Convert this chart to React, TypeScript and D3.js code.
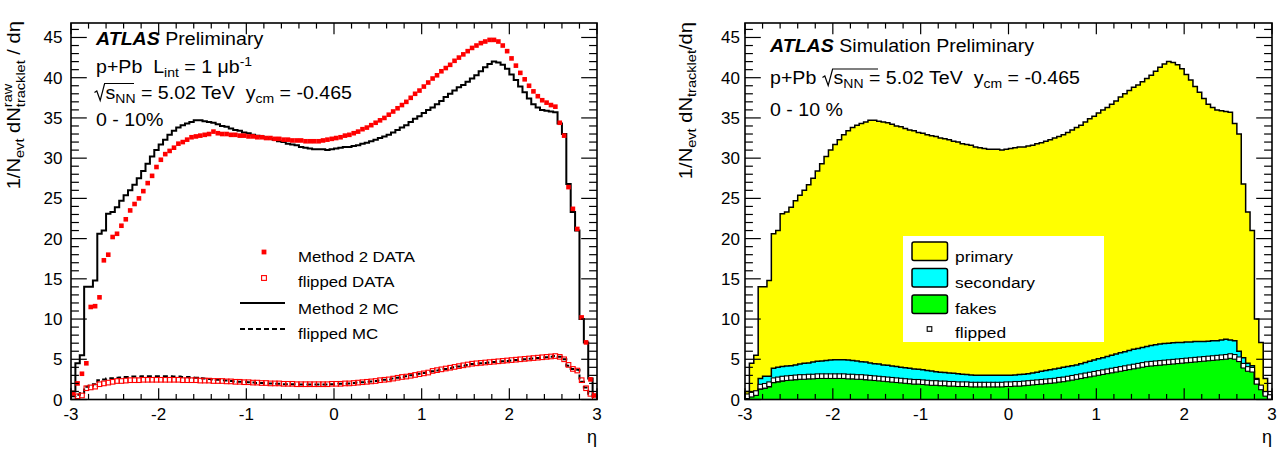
import React from "react";
import * as d3 from "d3";

const FONT = "'Liberation Sans', Arial, Helvetica, sans-serif";
const ETA_MIN = -3;
const ETA_MAX = 3;
const BIN_WIDTH = 0.05;
const N_BINS = 120;
const binLowEdges = d3.range(N_BINS).map((i) => +(ETA_MIN + i * BIN_WIDTH).toFixed(3));

// Method 2 MC (black histogram, left) == total (top of stack, right)
const method2MC = [
  1.0, 4.5, 5.5, 14.0, 14.0, 14.8, 20.6, 21.0, 23.1, 23.3,
  23.9, 24.7, 25.4, 26.0, 26.7, 27.5, 28.4, 29.3, 30.2, 31.0,
  31.7, 32.3, 32.9, 33.4, 33.8, 34.1, 34.3, 34.5, 34.7, 34.7,
  34.6, 34.5, 34.4, 34.2, 34.0, 33.9, 33.7, 33.5, 33.4, 33.2,
  33.1, 32.9, 32.8, 32.7, 32.5, 32.4, 32.3, 32.1, 32.0, 31.8,
  31.7, 31.6, 31.4, 31.3, 31.2, 31.1, 31.1, 31.1, 31.0, 31.1,
  31.2, 31.3, 31.4, 31.4, 31.5, 31.6, 31.8, 31.9, 32.1, 32.3,
  32.5, 32.7, 32.9, 33.2, 33.5, 33.8, 34.1, 34.5, 34.9, 35.2,
  35.6, 36.0, 36.3, 36.7, 37.1, 37.6, 38.0, 38.4, 38.8, 39.1,
  39.5, 39.9, 40.3, 40.8, 41.3, 41.7, 42.0, 41.9, 41.6, 41.1,
  40.4, 39.7, 38.9, 38.2, 37.4, 36.7, 36.3, 36.0, 35.9, 35.8,
  35.7, 34.3, 33.0, 26.8, 23.3, 21.0, 10.0, 7.1, 2.6, 0.5,
];

// Method 2 DATA (red filled squares)
const method2Data = [
  0.8, 2.0, 3.2, 4.5, 11.5, 11.6, 12.7, 17.3, 18.0, 20.2,
  20.6, 21.6, 22.4, 23.5, 24.3, 25.0, 25.9, 26.9, 27.8, 28.9,
  29.8, 30.5, 30.9, 31.3, 31.8, 32.0, 32.3, 32.6, 32.7, 32.8,
  32.9, 33.0, 33.3, 33.1, 33.0, 33.0, 32.9, 32.9, 32.8, 32.8,
  32.7, 32.7, 32.6, 32.6, 32.5, 32.5, 32.4, 32.4, 32.3, 32.3,
  32.2, 32.2, 32.2, 32.1, 32.1, 32.1, 32.1, 32.2, 32.3, 32.4,
  32.5, 32.6, 32.8, 32.9, 33.1, 33.3, 33.6, 33.8, 34.1, 34.4,
  34.7, 35.0, 35.4, 35.8, 36.2, 36.6, 37.0, 37.5, 38.0, 38.4,
  38.9, 39.4, 39.9, 40.3, 40.8, 41.2, 41.6, 42.1, 42.5, 42.9,
  43.3, 43.7, 44.0, 44.3, 44.5, 44.7, 44.7, 44.5, 44.0, 43.3,
  42.4, 41.5, 40.6, 39.8, 39.0, 38.3, 37.7, 37.2, 36.9, 36.6,
  36.4, 34.4, 32.8, 26.4, 23.7, 21.2, 10.2, 7.1, 2.5, 0.5,
];

// flipped DATA (red open squares)
const flippedData = [
  0.3, 0.4, 0.5, 1.4, 1.5, 1.6, 1.9, 2.0, 2.1, 2.2,
  2.3, 2.3, 2.35, 2.4, 2.4, 2.4, 2.45, 2.45, 2.45, 2.45,
  2.45, 2.45, 2.45, 2.45, 2.45, 2.4, 2.4, 2.4, 2.4, 2.35,
  2.35, 2.35, 2.3, 2.3, 2.3, 2.25, 2.25, 2.2, 2.2, 2.15,
  2.15, 2.1, 2.1, 2.05, 2.05, 2.0, 2.0, 2.0, 1.95, 1.95,
  1.95, 1.9, 1.9, 1.9, 1.9, 1.9, 1.9, 1.9, 1.9, 1.95,
  1.95, 1.95, 2.0, 2.0, 2.05, 2.1, 2.15, 2.2, 2.25, 2.3,
  2.4, 2.45, 2.5, 2.6, 2.7, 2.8, 2.85, 2.95, 3.05, 3.15,
  3.25, 3.35, 3.55, 3.65, 3.75, 3.85, 3.95, 4.05, 4.15, 4.25,
  4.35, 4.45, 4.5, 4.55, 4.6, 4.65, 4.7, 4.75, 4.8, 4.85,
  4.9, 4.95, 5.0, 5.05, 5.1, 5.15, 5.2, 5.25, 5.3, 5.35,
  5.4, 5.3, 5.0, 4.3, 3.8, 3.6, 2.4, 1.4, 0.7, 0.3,
];

// flipped MC (black dashed, left) and flipped markers (right)
const flippedMC = [
  0.4, 0.6, 0.8, 1.6, 1.7, 1.9, 2.4, 2.5, 2.6, 2.65,
  2.7, 2.75, 2.8, 2.8, 2.85, 2.85, 2.9, 2.9, 2.9, 2.9,
  2.9, 2.9, 2.9, 2.85, 2.85, 2.8, 2.8, 2.75, 2.7, 2.65,
  2.6, 2.55, 2.5, 2.45, 2.4, 2.35, 2.3, 2.25, 2.2, 2.2,
  2.15, 2.1, 2.05, 2.05, 2.0, 2.0, 1.95, 1.95, 1.9, 1.9,
  1.9, 1.85, 1.85, 1.85, 1.85, 1.85, 1.85, 1.85, 1.85, 1.9,
  1.9, 1.95, 1.95, 2.0, 2.05, 2.1, 2.15, 2.2, 2.25, 2.3,
  2.35, 2.45, 2.5, 2.6, 2.7, 2.8, 2.9, 3.0, 3.1, 3.2,
  3.3, 3.4, 3.5, 3.6, 3.7, 3.8, 3.9, 4.0, 4.1, 4.2,
  4.3, 4.4, 4.45, 4.5, 4.55, 4.6, 4.65, 4.7, 4.75, 4.8,
  4.85, 4.9, 4.95, 5.0, 5.05, 5.1, 5.15, 5.2, 5.25, 5.3,
  5.4, 5.3, 5.0, 4.2, 3.8, 3.7, 2.2, 1.5, 0.7, 0.3,
];

// fakes component (green)
const fakes = [
  0.3, 0.5, 0.6, 1.3, 1.4, 1.6, 2.1, 2.2, 2.3, 2.4,
  2.45, 2.5, 2.55, 2.6, 2.6, 2.65, 2.65, 2.65, 2.7, 2.7,
  2.7, 2.7, 2.65, 2.65, 2.6, 2.6, 2.55, 2.5, 2.5, 2.45,
  2.4, 2.35, 2.3, 2.25, 2.2, 2.15, 2.1, 2.05, 2.0, 2.0,
  1.95, 1.9, 1.85, 1.85, 1.8, 1.8, 1.75, 1.75, 1.7, 1.7,
  1.7, 1.65, 1.65, 1.65, 1.65, 1.65, 1.65, 1.65, 1.65, 1.7,
  1.7, 1.75, 1.75, 1.8, 1.85, 1.9, 1.95, 2.0, 2.05, 2.1,
  2.15, 2.25, 2.3, 2.4, 2.5, 2.6, 2.7, 2.8, 2.9, 3.0,
  3.1, 3.2, 3.3, 3.4, 3.5, 3.6, 3.7, 3.8, 3.9, 4.0,
  4.1, 4.2, 4.25, 4.3, 4.35, 4.4, 4.45, 4.5, 4.55, 4.6,
  4.65, 4.7, 4.75, 4.8, 4.85, 4.9, 4.95, 5.0, 5.05, 5.1,
  5.2, 5.1, 4.8, 4.0, 3.6, 3.5, 2.0, 1.3, 0.6, 0.2,
];

// secondary component (cyan)
const secondary = [
  0.2, 0.3, 0.4, 1.3, 1.5, 1.3, 1.8, 1.8, 1.8, 1.75,
  1.75, 1.8, 1.85, 1.9, 1.95, 2.0, 2.1, 2.15, 2.15, 2.2,
  2.25, 2.25, 2.3, 2.25, 2.25, 2.2, 2.15, 2.15, 2.05, 2.0,
  2.0, 1.95, 1.95, 1.9, 1.9, 1.85, 1.85, 1.85, 1.8, 1.75,
  1.75, 1.7, 1.7, 1.6, 1.6, 1.55, 1.55, 1.5, 1.5, 1.45,
  1.4, 1.4, 1.35, 1.35, 1.35, 1.35, 1.35, 1.35, 1.35, 1.3,
  1.3, 1.3, 1.35, 1.35, 1.35, 1.4, 1.45, 1.5, 1.55, 1.6,
  1.65, 1.65, 1.7, 1.7, 1.7, 1.7, 1.75, 1.8, 1.85, 1.9,
  1.95, 2.0, 2.05, 2.1, 2.15, 2.2, 2.25, 2.3, 2.35, 2.35,
  2.35, 2.4, 2.45, 2.5, 2.55, 2.55, 2.55, 2.55, 2.55, 2.5,
  2.5, 2.45, 2.45, 2.4, 2.35, 2.35, 2.35, 2.3, 2.35, 2.4,
  2.2, 2.2, 1.2, 1.2, 0.9, 0.7, 0.6, 0.3, 0.2, 0.1,
];

const xTickValues = [-3, -2, -1, 0, 1, 2, 3];
const yTickValues = [0, 5, 10, 15, 20, 25, 30, 35, 40, 45];
const yDomainMax = 46.8;

const PLOT_TOP = 23;
const PLOT_BOTTOM = 399.5;

type Pt = [number, number];

function stepPoints(vals: number[], dropEnds: boolean): Pt[] {
  const pts: Pt[] = vals.map((v, i) => [binLowEdges[i], v] as Pt);
  pts.push([ETA_MAX, vals[vals.length - 1]]);
  if (dropEnds) {
    pts.unshift([ETA_MIN, 0]);
    pts.push([ETA_MAX, 0]);
  }
  return pts;
}

function STxt(props: {
  x: number; y: number; size: number; children: any; anchor?: string; sx?: number;
}) {
  const { x, y, size, children, anchor = "start", sx = 1.12 } = props;
  return (
    <g transform={`translate(${x},${y}) scale(${sx},1)`}>
      <text x={0} y={0} fontSize={size} textAnchor={anchor as any} fill="#000" xmlSpace="preserve" fontFamily={FONT}>
        {children}
      </text>
    </g>
  );
}

function Frame(props: { x: d3.ScaleLinear<number, number>; y: d3.ScaleLinear<number, number>; labelX: number }) {
  const { x, y, labelX } = props;
  const [xa, xb] = x.range();
  const yb = y(0);
  const ya = y(yDomainMax);
  const minorX = d3.range(0, 31).map((i) => -3 + i * 0.2);
  const minorY = d3.range(0, 47);
  const xMajL = 11.3, xMinL = 5.6, yMajL = 15.8, yMinL = 7.9;
  return (
    <g>
      <g stroke="#000" strokeWidth={1.2}>
        {minorX.map((v, i) => {
          const major = Math.abs(v - Math.round(v)) < 1e-6;
          const L = major ? xMajL : xMinL;
          const px = x(v);
          return (
            <g key={"xt" + i}>
              <line x1={px} x2={px} y1={yb} y2={yb - L} />
              <line x1={px} x2={px} y1={ya} y2={ya + L} />
            </g>
          );
        })}
        {minorY.map((v, i) => {
          const major = v % 5 === 0;
          const L = major ? yMajL : yMinL;
          const py = y(v);
          return (
            <g key={"yt" + i}>
              <line x1={xa} x2={xa + L} y1={py} y2={py} />
              <line x1={xb} x2={xb - L} y1={py} y2={py} />
            </g>
          );
        })}
      </g>
      <rect x={xa} y={ya} width={xb - xa} height={yb - ya} fill="none" stroke="#000" strokeWidth={1.6} />
      {xTickValues.map((v) => (
        <text key={"xl" + v} x={x(v)} y={420} fontSize={17} textAnchor="middle" fontFamily={FONT} fill="#000">
          {v < 0 ? "-" + Math.abs(v) : String(v)}
        </text>
      ))}
      {yTickValues.map((v) => (
        <text key={"yl" + v} x={labelX} y={y(v) + 6} fontSize={17} textAnchor="end" fontFamily={FONT} fill="#000">
          {String(v)}
        </text>
      ))}
      <text x={xb} y={443} fontSize={18} textAnchor="end" fontFamily={FONT} fill="#000">η</text>
    </g>
  );
}

function LeftPanel() {
  const x = d3.scaleLinear().domain([ETA_MIN, ETA_MAX]).range([71, 597]);
  const y = d3.scaleLinear().domain([0, yDomainMax]).range([PLOT_BOTTOM, PLOT_TOP]);
  const line = d3.line<Pt>().x((d) => x(d[0])).y((d) => y(d[1])).curve(d3.curveStepAfter);
  const centers = binLowEdges.map((e) => e + BIN_WIDTH / 2);
  const ms = 4.6;
  const os = 4.6;
  return (
    <g>
      <path d={line(stepPoints(method2MC, true)) || ""} fill="none" stroke="#000" strokeWidth={2} />
      <path d={line(stepPoints(flippedMC, false)) || ""} fill="none" stroke="#000" strokeWidth={2} strokeDasharray="5,3" />
      {method2Data.map((v, i) => (
        <rect key={"d" + i} x={x(centers[i]) - ms / 2} y={y(v) - ms / 2} width={ms} height={ms} fill="#ff0000" />
      ))}
      {flippedData.map((v, i) => (
        <rect key={"f" + i} x={x(centers[i]) - os / 2} y={y(v) - os / 2} width={os} height={os} fill="none" stroke="#ff0000" strokeWidth={1.1} />
      ))}
      <Frame x={x} y={y} labelX={62.5} />
      {/* annotations */}
      <STxt x={96} y={45} size={17.5}>
        <tspan fontWeight="bold" fontStyle="italic">ATLAS</tspan>
        <tspan> Preliminary</tspan>
      </STxt>
      <STxt x={96} y={73} size={17.5}>
        <tspan>p+Pb  L</tspan>
        <tspan fontSize={12.5} dy={4}>int</tspan>
        <tspan dy={-4}> = 1 μb</tspan>
        <tspan fontSize={12.5} dy={-7}>-1</tspan>
      </STxt>
      <path d="M94.5,92.5 L96.8,91 L100.2,100.5 L104.6,83.5 L134,83.5" fill="none" stroke="#000" strokeWidth={1.2} />
      <STxt x={105.5} y={99} size={17.5}>
        <tspan>s</tspan>
        <tspan fontSize={12.5} dy={4}>NN</tspan>
        <tspan dy={-4}> = 5.02 TeV  y</tspan>
        <tspan fontSize={12.5} dy={4}>cm</tspan>
        <tspan dy={-4}> = -0.465</tspan>
      </STxt>
      <STxt x={96} y={126} size={17.5}>0 - 10%</STxt>
      {/* legend */}
      <rect x={264 - 2.4} y={252 - 2.4} width={4.8} height={4.8} fill="#ff0000" />
      <rect x={264 - 2.4} y={278 - 2.4} width={4.8} height={4.8} fill="none" stroke="#ff0000" strokeWidth={1.1} />
      <line x1={240} x2={285} y1={303} y2={303} stroke="#000" strokeWidth={2} />
      <line x1={240} x2={285} y1={329} y2={329} stroke="#000" strokeWidth={2} strokeDasharray="5,3" />
      <STxt x={298} y={261.5} size={15}>Method 2 DATA</STxt>
      <STxt x={298} y={287} size={15}>flipped DATA</STxt>
      <STxt x={298} y={313.5} size={15}>Method 2 MC</STxt>
      <STxt x={298} y={339} size={15}>flipped MC</STxt>
      {/* y title */}
      <g transform="translate(20,21) rotate(-90) scale(1.12,1)">
        <text x={0} y={0} fontSize={18} textAnchor="end" fontFamily={FONT} fill="#000" xmlSpace="preserve">
          <tspan>1/N</tspan>
          <tspan fontSize={13} dy={4}>evt</tspan>
          <tspan dy={-4}> dN</tspan>
          <tspan fontSize={13} dy={-8}>raw</tspan>
          <tspan fontSize={13} dx={-20.9} dy={13}>tracklet</tspan>
          <tspan dy={-5}> / dη</tspan>
        </text>
      </g>
    </g>
  );
}

function RightPanel() {
  const x = d3.scaleLinear().domain([ETA_MIN, ETA_MAX]).range([745, 1272]);
  const y = d3.scaleLinear().domain([0, yDomainMax]).range([PLOT_BOTTOM, PLOT_TOP]);
  const rows = method2MC.map((t, i) => ({
    fakes: fakes[i],
    secondary: secondary[i],
    primary: t - fakes[i] - secondary[i],
  }));
  const keys = ["fakes", "secondary", "primary"];
  const colors: Record<string, string> = { fakes: "#00ff00", secondary: "#00ffff", primary: "#ffff00" };
  const stacked = d3.stack<any>().keys(keys)(rows);
  const area = d3
    .area<[number, number, number]>()
    .x((d) => x(d[0]))
    .y0((d) => y(d[1]))
    .y1((d) => y(d[2]))
    .curve(d3.curveStepAfter);
  const line = d3.line<Pt>().x((d) => x(d[0])).y((d) => y(d[1])).curve(d3.curveStepAfter);
  const centers = binLowEdges.map((e) => e + BIN_WIDTH / 2);
  const os = 4.6;
  return (
    <g>
      {stacked.map((s) => {
        const pts: [number, number, number][] = s.map((d, i) => [binLowEdges[i], d[0], d[1]]);
        const last = s[s.length - 1];
        pts.push([ETA_MAX, last[0], last[1]]);
        return <path key={s.key} d={area(pts) || ""} fill={colors[s.key]} stroke="none" />;
      })}
      {stacked.map((s) => {
        const tops = s.map((d) => d[1]);
        return (
          <path key={"o" + s.key} d={line(stepPoints(tops, s.key === "primary")) || ""} fill="none" stroke="#000" strokeWidth={1.5} />
        );
      })}
      {flippedMC.map((v, i) => (
        <rect key={"fm" + i} x={x(centers[i]) - os / 2} y={y(v) - os / 2} width={os} height={os} fill="#ffffff" stroke="#000" strokeWidth={1.1} />
      ))}
      {/* legend */}
      <rect x={903} y={236} width={201} height={106} fill="#ffffff" />
      <rect x={912} y={242} width={35.5} height={18.5} rx={2} fill="#ffff00" stroke="#000" strokeWidth={1.5} />
      <rect x={912} y={268.5} width={35.5} height={18.5} rx={2} fill="#00ffff" stroke="#000" strokeWidth={1.5} />
      <rect x={912} y={295} width={35.5} height={18.5} rx={2} fill="#00ff00" stroke="#000" strokeWidth={1.5} />
      <rect x={929.5 - 2.3} y={329 - 2.3} width={4.6} height={4.6} fill="#ffffff" stroke="#000" strokeWidth={1.1} />
      <STxt x={955} y={261.5} size={15.5}>primary</STxt>
      <STxt x={955} y={288} size={15.5}>secondary</STxt>
      <STxt x={955} y={313.5} size={15.5}>fakes</STxt>
      <STxt x={955} y={337.5} size={15.5}>flipped</STxt>
      <Frame x={x} y={y} labelX={740} />
      {/* annotations */}
      <STxt x={770} y={52} size={17.5}>
        <tspan fontWeight="bold" fontStyle="italic">ATLAS</tspan>
        <tspan> Simulation Preliminary</tspan>
      </STxt>
      <STxt x={770} y={84} size={17.5}>p+Pb</STxt>
      <path d="M822.5,77.5 L824.8,76 L828.2,85.5 L832.6,69 L878,69" fill="none" stroke="#000" strokeWidth={1.2} />
      <STxt x={833.5} y={84} size={17.5}>
        <tspan>s</tspan>
        <tspan fontSize={12.5} dy={4}>NN</tspan>
        <tspan dy={-4}> = 5.02 TeV  y</tspan>
        <tspan fontSize={12.5} dy={4}>cm</tspan>
        <tspan dy={-4}> = -0.465</tspan>
      </STxt>
      <STxt x={770} y={116} size={17.5}>0 - 10 %</STxt>
      {/* y title */}
      <g transform="translate(692,22) rotate(-90) scale(1.12,1)">
        <text x={0} y={0} fontSize={18} textAnchor="end" fontFamily={FONT} fill="#000" xmlSpace="preserve">
          <tspan>1/N</tspan>
          <tspan fontSize={13} dy={4}>evt</tspan>
          <tspan dy={-4}> dN</tspan>
          <tspan fontSize={13} dy={4}>tracklet</tspan>
          <tspan dy={-4}>/dη</tspan>
        </text>
      </g>
    </g>
  );
}

export default function App() {
  return (
    <svg
      width={1287}
      height={463}
      viewBox="0 0 1287 463"
      style={{ position: "absolute", left: 0, top: 0, background: "#fff" }}
      fontFamily={FONT}
    >
      <rect x={0} y={0} width={1287} height={463} fill="#fff" />
      <LeftPanel />
      <RightPanel />
    </svg>
  );
}
